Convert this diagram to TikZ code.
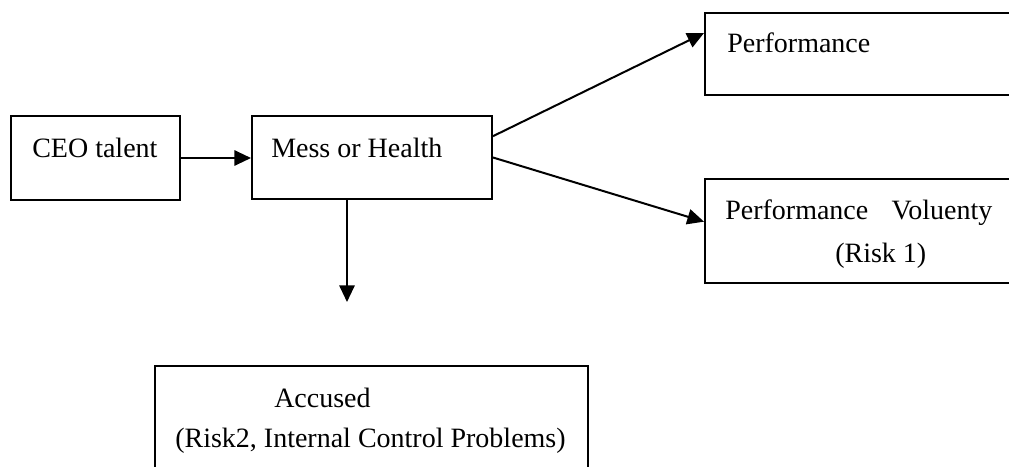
\documentclass[tikz,border=0pt]{standalone}
\usepackage{fontspec}
\setmainfont{Liberation Serif}
\usetikzlibrary{arrows.meta}
\begin{document}
\begin{tikzpicture}[x=0.75pt,y=-0.75pt,
  box/.style={draw=black,line width=1.5pt,rectangle,inner sep=0pt,anchor=north west},
  txt/.style={anchor=base west,inner sep=0pt,font=\fontsize{21}{25}\selectfont},
  conn/.style={line width=1.5pt,-{Triangle[length=12.5pt,width=11.5pt]}}]
\useasboundingbox (0,0) rectangle (1009,467);
\clip (0,0) rectangle (1009,467);
\fill[white] (0,0) rectangle (1009,467);
% boxes
\node[box,minimum width=126.75pt,minimum height=63pt] (ceo) at (10,115) {};
\node[box,minimum width=180pt,minimum height=62.25pt] (mess) at (251,115) {};
\node[box,minimum width=252pt,minimum height=61.5pt] (perf) at (704,12) {};
\node[box,minimum width=252pt,minimum height=78pt] (risk) at (704,178) {};
\node[box,minimum width=324.75pt,minimum height=101.25pt] (acc) at (154,365) {};
% texts
\node[txt] (ceot) at (32,157) {CEO talent};
\node[txt] (messt) at (271,157) {Mess or Health};
\node[txt] (perft) at (727,53) {Performance};
\node[txt] (riskta) at (725,219) {\makebox[200.25pt][s]{Performance\hfill Voluenty}};
\node[txt] (risktb) at (835,262) {(Risk 1)};
\node[txt] (accta) at (274,407) {Accused};
\node[txt] (acctb) at (175,447) {(Risk2, Internal Control Problems)};
% connectors
\coordinate (down) at (347,302);
\draw[conn] (ceo.east) -- (mess.west |- ceo.east);
\draw[conn] ([yshift=16pt]mess.east) -- ([yshift=-15.75pt]perf.north west);
\draw[conn] (mess.east) -- ([yshift=7pt]risk.west);
\draw[conn] (down |- mess.south) -- (down);
\end{tikzpicture}
\end{document}
